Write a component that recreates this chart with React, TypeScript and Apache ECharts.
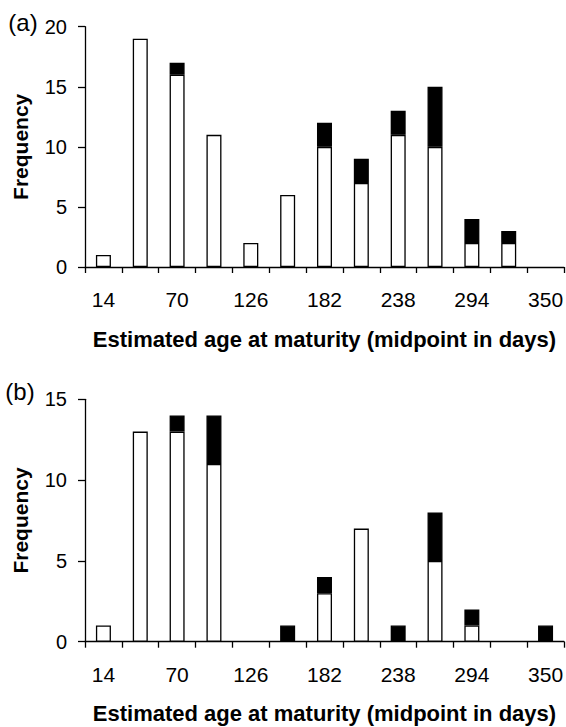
import React, { useEffect, useRef } from "react";
import * as echarts from "echarts";

const categories = ["14", "42", "70", "98", "126", "154", "182", "210", "238", "266", "294", "322", "350"];
const aWhite = [1, 19, 16, 11, 2, 6, 10, 7, 11, 10, 2, 2, 0];
const aBlack = [0, 0, 1, 0, 0, 0, 2, 2, 2, 5, 2, 1, 0];
const bWhite = [1, 13, 13, 11, 0, 0, 3, 7, 0, 5, 1, 0, 0];
const bBlack = [0, 0, 1, 3, 0, 1, 1, 0, 1, 3, 1, 0, 1];
const panelLetters = ["(a)", "(b)"];
const yMax = [20, 15];
const xTitle = "Estimated age at maturity (midpoint in days)";
const yTitle = "Frequency";

const FONT = "'Liberation Sans', Arial, Helvetica, sans-serif";

export default function App() {
  const ref = useRef<HTMLDivElement>(null);
  useEffect(() => {
    if (!ref.current) return;
    const chart = echarts.init(ref.current, null, { renderer: "svg" });
    const nz = (arr: number[]) => arr.map((v) => (v === 0 ? "-" : v));
    const grids = [
      { left: 85, top: 26.7, width: 481, height: 240.3 },
      { left: 85, top: 399.3, width: 481, height: 242.4 },
    ];
    const xAxes = grids.map((_, i) => ({
      type: "category",
      gridIndex: i,
      data: categories,
      boundaryGap: true,
      axisLine: { lineStyle: { color: "#000", width: 1.3 } },
      axisTick: { show: true, length: 6, interval: 0, alignWithLabel: false, lineStyle: { color: "#000", width: 1.3 } },
      axisLabel: { interval: 1, margin: 22, color: "#000", fontSize: 21, fontFamily: FONT },
      name: xTitle,
      nameLocation: "middle",
      nameGap: 61,
      nameTextStyle: { color: "#000", fontSize: 22, fontWeight: "bold", fontFamily: FONT },
    }));
    const yAxes = grids.map((_, i) => ({
      type: "value",
      gridIndex: i,
      min: 0,
      max: yMax[i],
      interval: 5,
      splitLine: { show: false },
      axisLine: { show: true, lineStyle: { color: "#000", width: 1.3 } },
      axisTick: { show: true, length: 7, lineStyle: { color: "#000", width: 1.3 } },
      axisLabel: { margin: 18, color: "#000", fontSize: 20, fontFamily: FONT },
      name: yTitle,
      nameLocation: "middle",
      nameGap: 54,
      nameTextStyle: { color: "#000", fontSize: 21, fontWeight: "bold", fontFamily: FONT },
    }));
    const mk = (data: number[], idx: number, black: boolean, stack: string) => ({
      type: "bar",
      xAxisIndex: idx,
      yAxisIndex: idx,
      stack,
      data: nz(data),
      barWidth: 15,
      itemStyle: black
        ? { color: "#000", borderColor: "#000", borderWidth: 1.3 }
        : { color: "#fff", borderColor: "#000", borderWidth: 1.3 },
    });
    chart.setOption({
      animation: false,
      backgroundColor: "#fff",
      grid: grids,
      xAxis: xAxes,
      yAxis: yAxes,
      series: [
        mk(aWhite, 0, false, "a"),
        mk(aBlack, 0, true, "a"),
        mk(bWhite, 1, false, "b"),
        mk(bBlack, 1, true, "b"),
      ],
      graphic: [
        {
          type: "text",
          left: 8.3,
          top: 10,
          style: { text: panelLetters[0], fill: "#000", font: `24px ${FONT}` },
        },
        {
          type: "text",
          left: 5.3,
          top: 379,
          style: { text: panelLetters[1], fill: "#000", font: `24px ${FONT}` },
        },
      ],
    });
    return () => chart.dispose();
  }, []);
  return <div ref={ref} style={{ position: "absolute", left: 0, top: 0, width: 566, height: 727 }} />;
}
